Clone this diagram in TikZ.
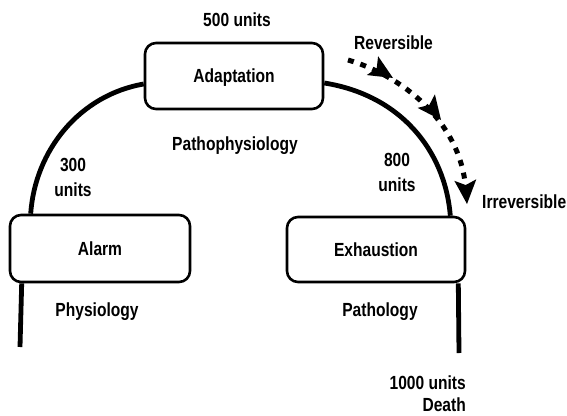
\documentclass[tikz,border=0pt]{standalone}
\usepackage{fontspec}
\setmainfont{Liberation Sans}[FakeStretch=0.82]
\usetikzlibrary{calc}
\begin{document}
\begin{tikzpicture}[x=1pt,y=-1pt,
  stage/.style={draw, line width=2.6pt, rounded corners=11pt, fill=white,
    minimum width=178pt, minimum height=66pt, inner sep=0pt,
    text height=13.6pt, text depth=0pt, font=\fontsize{19}{21}\selectfont\bfseries},
  lbl/.style={inner sep=0pt, font=\fontsize{19}{21}\selectfont\bfseries},
  pair/.style={inner sep=0pt, align=center, font=\fontsize{19}{25}\selectfont\bfseries},
  limb/.style={line width=4.8pt},
  course/.style={line width=5pt, dash pattern=on 6pt off 7pt},
  kite/.style={fill=black, draw=none}
]
\useasboundingbox (0,0) rectangle (567,415);

% the three stages
\node[stage] (adapt) at (234,76) {Adaptation};
\node[stage, minimum width=180pt, minimum height=67pt] (alarm) at (100,248.5) {Alarm};
\node[stage, minimum height=65pt] (exhaust) at (376,249.5) {Exhaustion};

% free ends of the curve
\coordinate (tailL) at (20,347);
\coordinate (tailR) at (459,353);
\coordinate (dashS) at (348,60);
\coordinate (dashE) at (467,204);

% the resistance curve
\draw[limb] ($(adapt.west)+(0,8)$) .. controls (80,95) and (35,150) .. ($(alarm.north west)+(22,0)$);
\draw[limb] ($(adapt.east)+(0,7)$) .. controls (400,95) and (445,150) .. ($(exhaust.north east)+(-16,0)$);
\draw[limb] ($(alarm.south west)+(13,0)$) -- (tailL);
\draw[limb] ($(exhaust.south east)+(-8,0)$) -- (tailR);

% reversible to irreversible course
\draw[course, shorten >=16pt] (dashS) .. controls (400,75) and (460,120) .. (dashE);
% heads along the course
\fill[kite, shift={(393,78)}, rotate=-31] (0,0) -- (-24,11) -- (-19,0) -- (-24,-11) -- cycle;
\fill[kite, shift={(441,120)}, rotate=-52] (0,0) -- (-24,11) -- (-19,0) -- (-24,-11) -- cycle;
\fill[kite, shift={(dashE)}, rotate=-86] (0,0) -- (-24,11) -- (-19,0) -- (-24,-11) -- cycle;

% labels
\node[lbl, anchor=base] (u500) at (237,27) {500 units};
\node[lbl, anchor=base] (patho) at (235,150) {Pathophysiology};
\node[pair, anchor=north] (u300) at (73,158) {300\\units};
\node[pair, anchor=north] (u800) at (397,153) {800\\units};
\node[lbl, anchor=base] (rev) at (393.5,49) {Reversible};
\node[lbl, anchor=base west] (irr) at (482,208) {Irreversible};
\node[lbl, anchor=base] (physio) at (97,316) {Physiology};
\node[lbl, anchor=base] (pathol) at (380,316) {Pathology};
\node[inner sep=0pt, align=right, font=\fontsize{19}{21.5}\selectfont\bfseries, anchor=north east] (death) at (466,376) {1000 units\\Death};
\end{tikzpicture}
\end{document}
